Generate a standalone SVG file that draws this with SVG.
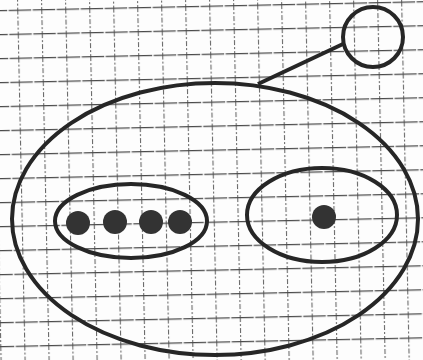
<svg xmlns="http://www.w3.org/2000/svg" width="423" height="360" viewBox="0 0 423 360">
<defs>
<style>
.shape{fill:none;stroke:#262626;stroke-width:4}
.dot{fill:#333}
</style>
<pattern id="g" width="24" height="24" patternUnits="userSpaceOnUse" x="17" y="10" patternTransform="rotate(-1.2)">
<path d="M0.5 0V24" fill="none" stroke="#6a6a6a" stroke-width="1.2" stroke-dasharray="5 2 2 2"/>
<path d="M0 0.5H24" fill="none" stroke="#4a4a4a" stroke-width="1.4" stroke-dasharray="14 1.5"/>
</pattern>
</defs>
<rect width="423" height="360" fill="#fdfdfd"/>
<rect width="423" height="360" fill="url(#g)"/>
<g id="connectors">
<line class="shape" x1="258" y1="84" x2="343" y2="44" stroke-width="3"/>
</g>
<g id="outer"><ellipse class="shape" cx="215" cy="219" rx="203" ry="136"/></g>
<g id="small-circle"><circle class="shape" cx="373" cy="37" r="30"/></g>
<g id="left-set">
<ellipse class="shape" cx="131" cy="221" rx="76" ry="37"/>
<circle class="dot" cx="78" cy="223" r="12"/>
<circle class="dot" cx="115" cy="222" r="12"/>
<circle class="dot" cx="151" cy="222" r="12"/>
<circle class="dot" cx="180" cy="222" r="12"/>
</g>
<g id="right-set">
<ellipse class="shape" cx="322" cy="215" rx="75" ry="47"/>
<circle class="dot" cx="324" cy="217" r="12"/>
</g>
</svg>
